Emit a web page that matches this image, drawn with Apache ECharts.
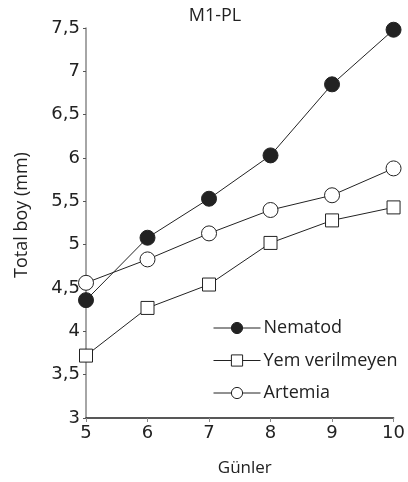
<!DOCTYPE html>
<html>
<head>
<meta charset="utf-8">
<script src="https://cdn.jsdelivr.net/npm/echarts@6/dist/echarts.min.js"></script>
<style>
  html, body { margin: 0; padding: 0; background: #fff; }
  #chart { width: 408px; height: 482px; }
</style>
</head>
<body>
<div id="chart"></div>
<script>
// ======================
// DATA
// ======================
const days = [5, 6, 7, 8, 9, 10];
const nematod = [4.36, 5.08, 5.53, 6.03, 6.85, 7.48];
const yemVerilmeyen = [3.72, 4.27, 4.54, 5.02, 5.28, 5.43];
const artemia = [4.56, 4.83, 5.13, 5.40, 5.57, 5.88];

const seriesNames = ['Nematod', 'Yem verilmeyen', 'Artemia'];
const ink = '#222';
const font = 'Open Sans';
const numFont = 'DejaVu Sans';

const pairs = vals => days.map((d, i) => [d, vals[i]]);

function lineSeries(name, vals, symbol, size, fill) {
    return {
        name: name,
        type: 'line',
        data: pairs(vals),
        symbol: symbol,
        symbolSize: size,
        lineStyle: { color: ink, width: 1 },
        itemStyle: { color: fill, borderColor: ink, borderWidth: 1 },
        emphasis: { disabled: true },
        z: 3
    };
}

const chart = echarts.init(document.getElementById('chart'));

const option = {
    animation: false,
    title: {
        text: 'M1-PL',
        left: 210,
        textAlign: 'center',
        top: 2,
        textStyle: { fontFamily: font, fontSize: 18, fontWeight: 'normal', color: ink }
    },
    legend: {
        orient: 'vertical',
        left: 208,
        top: 314,
        itemWidth: 47,
        itemHeight: 14,
        itemGap: 14.5,
        data: seriesNames,
        lineStyle: { width: 1 },
        itemStyle: { borderWidth: 1 },
        textStyle: { fontFamily: font, fontSize: 18, color: ink, padding: [0, 0, 0, -2] }
    },
    grid: { left: 86, right: 8, top: 28, bottom: 63.5, containLabel: false },
    xAxis: {
        type: 'value',
        min: 5,
        max: 10,
        interval: 1,
        name: 'Günler',
        nameLocation: 'middle',
        nameGap: 42,
        nameTextStyle: { fontFamily: font, fontSize: 17, color: ink, padding: [0, 0, 0, 10] },
        axisLine: { lineStyle: { color: ink, width: 1.5 } },
        axisTick: { length: 4, lineStyle: { color: '#888' } },
        axisLabel: { fontFamily: numFont, fontSize: 18, color: ink, margin: 6 },
        splitLine: { show: false }
    },
    yAxis: {
        type: 'value',
        min: 3,
        max: 7.5,
        interval: 0.5,
        name: 'Total boy (mm)',
        nameLocation: 'middle',
        nameGap: 55,
        nameTextStyle: { fontFamily: font, fontSize: 18, color: ink, padding: [0, 0, 0, 16] },
        axisLine: { show: true, lineStyle: { color: '#888', width: 1.5 } },
        axisTick: { show: true, length: 3, lineStyle: { color: '#555' } },
        axisLabel: {
            fontFamily: numFont, fontSize: 18, color: ink, margin: 6,
            formatter: v => String(v).replace('.', ',')
        },
        splitLine: { show: false }
    },
    series: [
        lineSeries('Nematod', nematod, 'circle', 15, ink),
        lineSeries('Yem verilmeyen', yemVerilmeyen, 'rect', 13, '#fff'),
        lineSeries('Artemia', artemia, 'circle', 15, '#fff')
    ]
};

chart.setOption(option);
</script>
</body>
</html>
